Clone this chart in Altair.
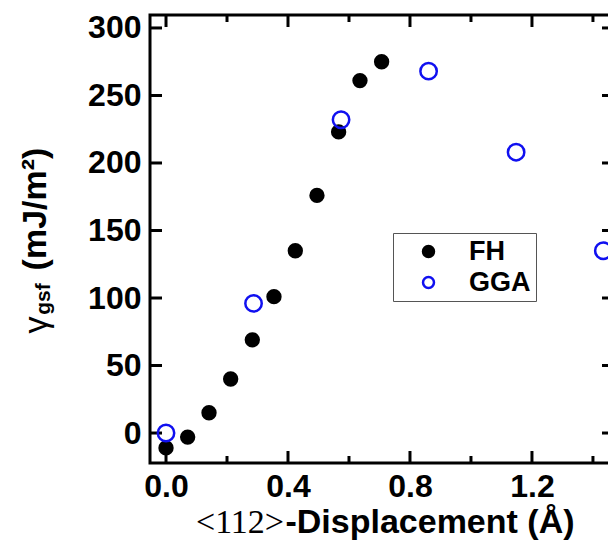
import altair as alt
import pandas as pd

# ---- data ----
FH_X = [0.0, 0.071, 0.141, 0.212, 0.283, 0.354, 0.424, 0.495, 0.566, 0.636, 0.707]
FH_Y = [-11, -3, 15, 40, 69, 101, 135, 176, 223, 261, 275]
GGA_X = [0.0, 0.287, 0.574, 0.861, 1.148, 1.434]
GGA_Y = [0, 96, 232, 268, 208, 135]
SERIES = ["FH", "GGA"]
SERIES_FILL = ["black", "transparent"]
SERIES_STROKE = ["black", "#1010f0"]

X_MAJOR = [0.0, 0.4, 0.8, 1.2]
X_MINOR = [0.2, 0.6, 1.0, 1.4]
Y_TICKS = [0, 50, 100, 150, 200, 250, 300]
X_DOMAIN = [-0.0525, 1.469]
Y_DOMAIN = [-22.2, 309.6]

X_TITLE_A = "<112>"
X_TITLE_B = "-Displacement (Å)"
Y_T_GAMMA = "γ"
Y_T_SUB = "gsf"
Y_T_UNIT = "(mJ/m²)"

W, H = 464, 448
SANS = "Liberation Sans"
SERIF = "Liberation Serif"

fh = pd.DataFrame({"x": FH_X, "y": FH_Y, "series": SERIES[0]})
gga = pd.DataFrame({"x": GGA_X, "y": GGA_Y, "series": SERIES[1]})

xs = alt.Scale(domain=X_DOMAIN, nice=False, zero=False)
ys = alt.Scale(domain=Y_DOMAIN, nice=False, zero=False)

common = dict(grid=False, domain=False, title=None)
x_lab = alt.Axis(orient="bottom", values=X_MAJOR, format=".1f", ticks=False,
                 labelFont=SANS, labelFontWeight="bold", labelFontSize=32,
                 labelColor="black", labelPadding=8, labelFlush=False, **common)
y_lab = alt.Axis(orient="left", values=Y_TICKS, ticks=False,
                 labelFont=SANS, labelFontWeight="bold", labelFontSize=32,
                 labelColor="black", labelPadding=9, **common)

legend = alt.Legend(title=None, orient="none", legendX=243, legendY=218,
                    labelFont=SANS, labelFontSize=27, labelFontWeight="bold",
                    labelColor="black", symbolSize=120, symbolStrokeWidth=2.5,
                    symbolOffset=17, labelOffset=27, padding=5, rowPadding=3,
                    strokeColor="#555555", symbolType="circle")


def series_layer(data, size):
    return alt.Chart(data).mark_point(shape="circle", strokeWidth=2.5, opacity=1, size=size).encode(
        x=alt.X("x:Q", scale=xs, axis=x_lab),
        y=alt.Y("y:Q", scale=ys, axis=y_lab),
        fill=alt.Fill("series:N", scale=alt.Scale(domain=SERIES, range=SERIES_FILL), legend=legend),
        stroke=alt.Stroke("series:N", scale=alt.Scale(domain=SERIES, range=SERIES_STROKE), legend=legend),
    )


points = [series_layer(fh, 165), series_layer(gga, 269)]


# inward tick marks on all four sides, placed through the shared scales
def xticks(values, y0, y1):
    return alt.Chart(pd.DataFrame({"x": values})).mark_rule(color="black", strokeWidth=3).encode(
        x=alt.X("x:Q", scale=xs, axis=x_lab), y=alt.value(y0), y2=alt.value(y1))


def yticks(values, x0, x1):
    return alt.Chart(pd.DataFrame({"y": values})).mark_rule(color="black", strokeWidth=3).encode(
        y=alt.Y("y:Q", scale=ys, axis=y_lab), x=alt.value(x0), x2=alt.value(x1))


tick_layers = [
    xticks(X_MAJOR, H, H - 12), xticks(X_MINOR, H, H - 7),
    xticks(X_MAJOR, 0, 12), xticks(X_MINOR, 0, 7),
    yticks(Y_TICKS, 0, 12), yticks(Y_TICKS, W, W - 12),
]


def label(s, x, y, size, weight, font, angle=0):
    return alt.Chart(alt.InlineData(values=[{"t": s}])).mark_text(
        font=font, fontSize=size, fontWeight=weight, angle=angle,
        align="center", baseline="alphabetic", color="black",
    ).encode(x=alt.value(x), y=alt.value(y), text="t:N")


titles = [
    label(X_TITLE_A, 90, 518, 34, "normal", SERIF),
    label(X_TITLE_B, 280, 518, 34, "bold", SANS),
    label(Y_T_UNIT, -104, 194, 34, "bold", SANS, 270),
    label(Y_T_SUB, -100, 284, 21, "bold", SANS, 270),
    label(Y_T_GAMMA, -103, 310, 34, "normal", SANS, 270),
]

chart = alt.layer(*tick_layers, *points, *titles).properties(
    width=W, height=H,
    autosize=alt.AutoSizeParams(type="none"),
    padding={"left": 142, "top": 7, "right": -6, "bottom": 77},
).configure_view(stroke="black", strokeWidth=3)

chart.save("out.html", embed_options={"renderer": "svg", "actions": False})
